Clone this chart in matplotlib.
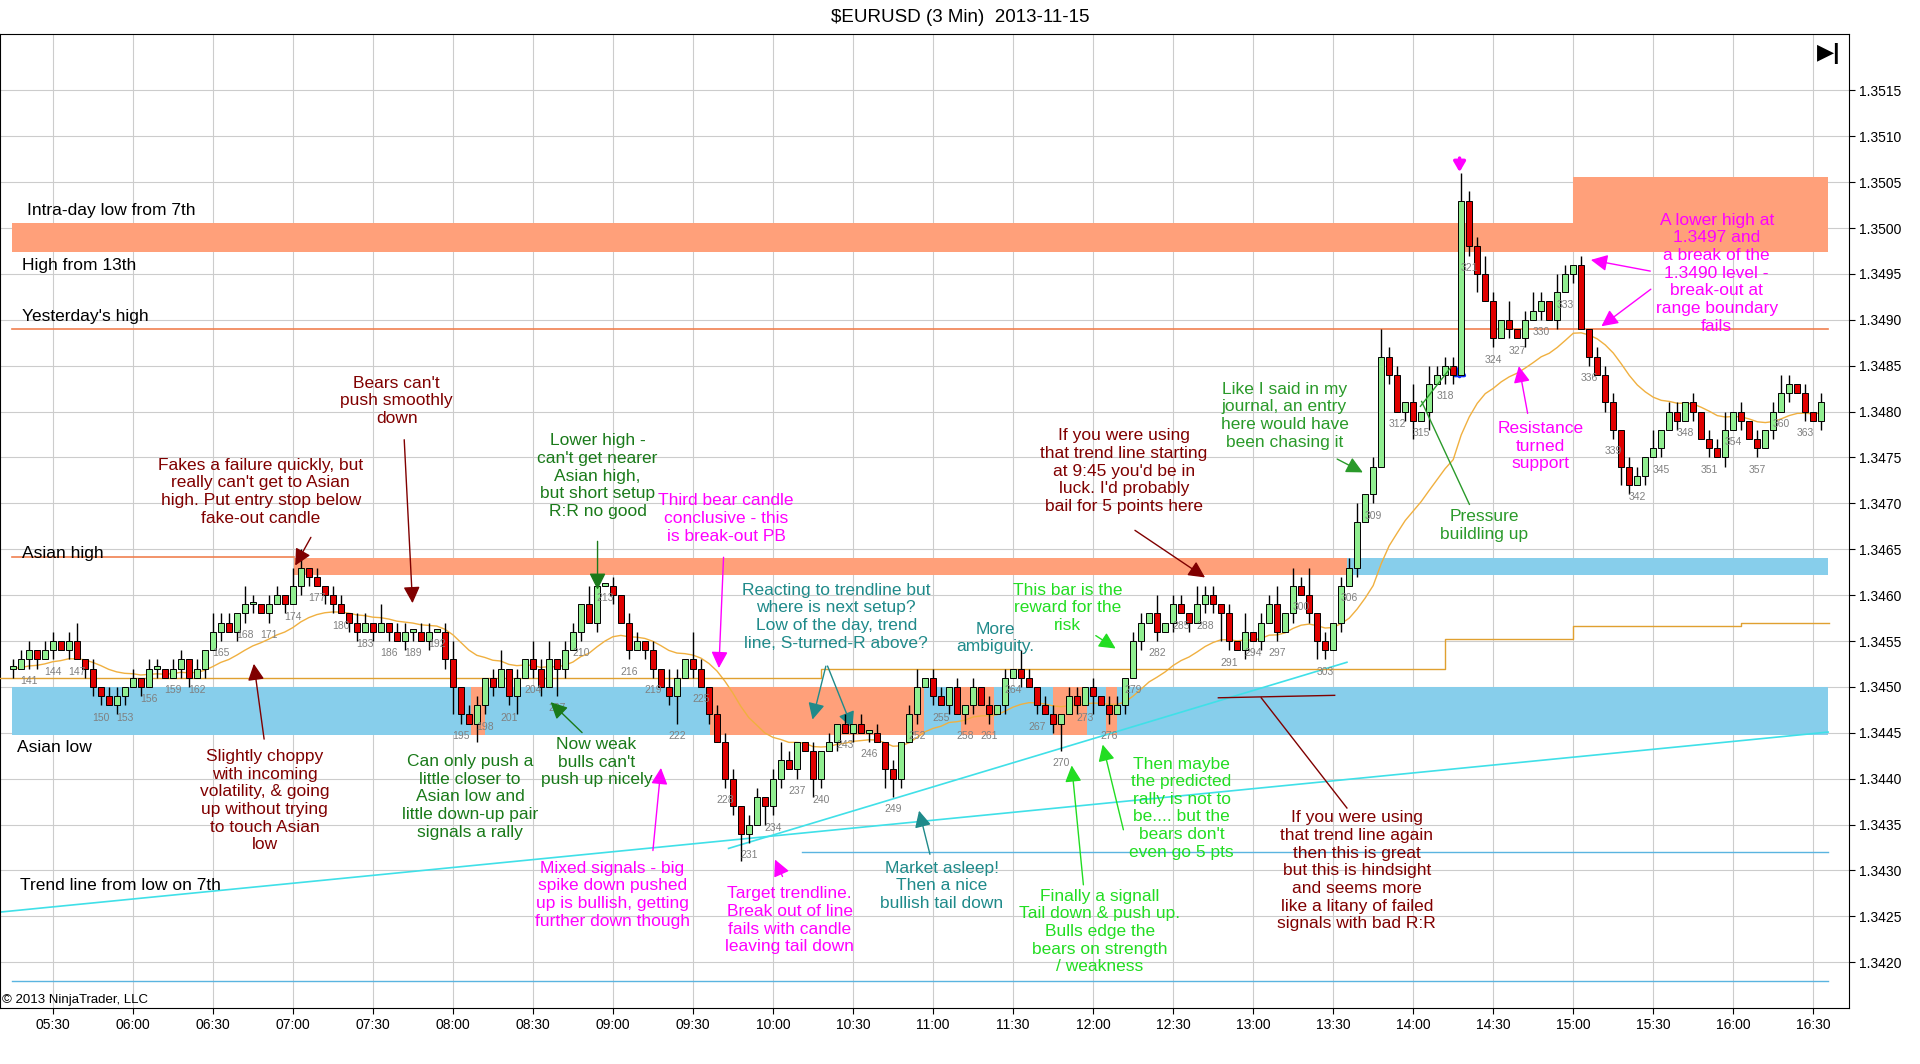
import matplotlib
matplotlib.use("Agg")
import matplotlib.pyplot as plt
import numpy as np
import pandas as pd

plt.rcParams['font.family'] = ['Liberation Sans', 'DejaVu Sans']

# prices in pips above 1.3400, bars numbered 139..365 (bar 144 = 05:30)
first_bar = 139
closes = [52,53,54,53,54,55,54,55,53,52,
          50,49,48,49,50,51,50,52,52,51,
          52,53,51,52,54,56,57,56,58,59,
          59,58,59,60,59,61,63,62,61,60,
          59,58,57,56,57,56,57,56,55,56,
          56,55,56,56,53,50,47,46,48,51,
          50,52,49,51,53,52,50,53,52,54,
          56,59,57,61,61,60,57,54,55,54,
          52,50,49,51,53,52,50,47,44,40,
          37,34,35,38,37,40,42,41,44,43,
          40,43,44,46,45,46,45,45,44,41,
          40,44,47,50,51,49,48,50,47,48,
          50,48,47,48,51,52,51,50,48,47,
          46,47,49,48,50,49,48,47,48,51,
          55,57,58,56,57,59,58,57,59,60,
          59,58,55,54,56,55,57,59,56,58,
          61,60,58,55,54,57,61,63,68,71,
          74,86,84,80,81,79,80,83,84,85,
          84,103,98,95,92,88,90,89,88,90,
          91,92,90,93,95,96,89,86,84,81,
          78,74,72,73,75,76,78,80,79,81,
          80,77,76,75,78,80,79,77,76,78,
          80,82,83,82,80,79,81]
hi_wick = ("1110110120 1011010110 1101021102 1011022010 1101102011 0110120110 "
           "1201021201 1021010110 1021031011 1011012100 1010101010 1012011010 "
           "1010102101 1011010110 1102011021 1010201120 2130101120 1311020211 "
           "1311210201 2102101011 1011020110 1011201010 1210101")
lo_wick = ("1011010101 1101101010 0110101011 1010101101 1011010101 1010131021 "
           "1012011031 0101010101 1013010101 1310211010 2101010102 2101010101 "
           "1010101010 1301020101 0101010101 1310101010 1012101010 1010120201 "
           "1012010101 0101010101 1210101010 1010101010 1010101")
hi_w = [int(c) for c in hi_wick.replace(" ", "")]
lo_w = [int(c) for c in lo_wick.replace(" ", "")]

step_bars = [137, 240, 318, 334, 355, 366]
step_vals = [51.0, 51.9, 55.2, 56.6, 57.0, 57.0]

time_labels = ["05:30", "06:00", "06:30", "07:00", "07:30", "08:00", "08:30", "09:00",
               "09:30", "10:00", "10:30", "11:00", "11:30", "12:00", "12:30", "13:00",
               "13:30", "14:00", "14:30", "15:00", "15:30", "16:00", "16:30"]
price_ticks = [1.3420 + 0.0005 * i for i in range(20)]

# reference-pixel -> data helper (reference drawn at 1568 px wide)
def P(x, y):
    return 144 + (x - 43) / 6.536, 115 - (y - 74) / 7.494

fig = plt.figure(figsize=(19.2, 10.64), dpi=100)
ax = fig.add_axes([0.0, 0.053, 0.963, 0.915])
x0, _ = P(0, 0)
x1, _ = P(1510, 0)
_, y1 = P(0, 28)
_, y0 = P(0, 823)
ax.set_xlim(x0, x1)
ax.set_ylim(y0, y1)

for i in range(len(time_labels)):
    ax.axvline(144 + 10 * i, color='#cccccc', lw=0.8, zorder=0)
for p in price_ticks:
    ax.axhline((p - 1.34) * 10000, color='#cccccc', lw=0.8, zorder=0)

salmon = '#FFA07A'
sky = '#87CEEB'
def band(xa, xb, lo, hi, c, z=1):
    a, _ = P(xa, 0)
    b, _ = P(xb, 0)
    ax.fill_between([a, b], lo, hi, color=c, lw=0, zorder=z)

band(10, 1493, 97.4, 100.6, salmon)
band(1285, 1493, 97.4, 105.6, salmon)
band(240, 1100, 62.2, 64.0, salmon)
band(1100, 1493, 62.2, 64.0, sky)
band(10, 1493, 44.8, 50.0, sky)
band(580, 755, 44.8, 50.0, salmon, 1.5)
band(385, 396, 44.8, 50.0, salmon, 1.5)
band(860, 888, 44.8, 50.0, salmon, 1.5)
band(903, 912, 44.8, 50.0, salmon, 1.5)
band(785, 812, 44.8, 50.0, salmon, 1.5)

a, _ = P(10, 0); b, _ = P(1493, 0)
ax.plot([a, b], [89, 89], color='#f08050', lw=1.2, zorder=2)
ax.plot([P(10, 0)[0], P(240, 0)[0]], [64.2, 64.2], color='#f08050', lw=1.2, zorder=2)
ax.plot([P(655, 0)[0], b], [32.0, 32.0], color='#5ab4e0', lw=1, zorder=2)
ax.plot([a, b], [18.0, 18.0], color='#5ab4e0', lw=1, zorder=2)
ax.plot(*zip(P(0, 745), P(1493, 598)), color='#40e0e8', lw=1.2, zorder=2)
ax.plot(*zip(P(595, 693), P(1100, 541)), color='#40e0e8', lw=1.2, zorder=2)
ax.plot(*zip(P(995, 570), P(1090, 568)), color='#800000', lw=1, zorder=2)

# candles
bars = np.arange(first_bar, first_bar + len(closes))
c = np.array(closes, float)
o = np.concatenate([[52], c[:-1]])
h = np.maximum(o, c) + np.array(hi_w)
l = np.minimum(o, c) - np.array(lo_w)
ax.vlines(bars, l, h, color='black', lw=1, zorder=4)
up = c >= o
body = np.where(np.abs(c - o) < 0.3, 0.3, np.abs(c - o))
ax.bar(bars, body, bottom=np.minimum(o, c), width=0.72,
       color=np.where(up, '#90EE90', '#e00000'), edgecolor='black', lw=0.7, zorder=5)

ema = pd.Series(c).ewm(span=20, adjust=False).mean()
ax.plot(bars, ema, color='#f0b040', lw=1, zorder=3)
ax.step(step_bars, step_vals, where='post', color='#e0a030', lw=1, zorder=3)

for n in range(141, bars[-1] + 1, 3):
    k = n - first_bar
    ax.text(n, l[k] - 0.8, str(n), fontsize=7.5, color='#808080', ha='center', va='top', zorder=6)

# left labels
for txt, (x, y) in [("Intra-day low from 7th", (22, 172)), ("High from 13th", (18, 217)),
                    ("Yesterday's high", (18, 259)), ("Asian high", (18, 452)),
                    ("Asian low", (14, 611)), ("Trend line from low on 7th", (16, 723))]:
    ax.text(*P(x, y), txt, fontsize=12.5, color='black', ha='left', va='center', zorder=7)

dred, dgreen, mag, teal, lgreen, grn = '#800000', '#1a7a1a', '#ff00ff', '#1f8a8a', '#22dd22', '#2a9a2a'
notes = [
    ("Fakes a failure quickly, but\nreally can't get to Asian\nhigh. Put entry stop below\nfake-out candle", 213, 374, dred, (255, 437), (240, 464)),
    ("Bears can't\npush smoothly\ndown", 324, 307, dred, (330, 357), (337, 495)),
    ("Lower high -\ncan't get nearer\nAsian high,\nbut short setup\nR:R no good", 488, 354, dgreen, (488, 440), (488, 484)),
    ("Third bear candle\nconclusive - this\nis break-out PB", 593, 403, mag, (591, 453), (587, 548)),
    ("Reacting to trendline but\nwhere is next setup?\nLow of the day, trend\nline, S-turned-R above?", 683, 476, teal, (675, 542), (663, 590)),
    ("More\nambiguity.", 813, 508, teal, None, None),
    ("This bar is the\nreward for the\nrisk", 872, 476, lgreen, (893, 518), (913, 531)),
    ("If you were using\nthat trend line starting\nat 9:45 you'd be in\nluck. I'd probably\nbail for 5 points here", 918, 350, dred, (925, 432), (986, 473)),
    ("Like I said in my\njournal, an entry\nhere would have\nbeen chasing it", 1049, 312, grn, (1090, 374), (1115, 387)),
    ("Pressure\nbuildling up", 1212, 416, grn, None, None),
    ("Resistance\nturned\nsupport", 1258, 344, mag, (1248, 340), (1240, 297)),
    ("A lower high at\n1.3497 and\na break of the\n1.3490 level -\nbreak-out at\nrange boundary\nfails", 1402, 174, mag, (1350, 222), (1297, 212)),
    ("Slightly choppy\nwith incoming\nvolatility, & going\nup without trying\nto touch Asian\nlow", 216, 612, dred, (216, 606), (207, 540)),
    ("Can only push a\nlittle closer to\nAsian low and\nlittle down-up pair\nsignals a rally", 384, 616, dgreen, None, None),
    ("Now weak\nbulls can't\npush up nicely", 487, 602, dgreen, (477, 600), (448, 572)),
    ("Mixed signals - big\nspike down pushed\nup is bullish, getting\nfurther down though", 500, 703, mag, (533, 697), (540, 625)),
    ("Target trendline.\nBreak out of line\nfails with candle\nleaving tail down", 645, 724, mag, (640, 718), (632, 700)),
    ("Market asleep!\nThen a nice\nbullish tail down", 769, 703, teal, (760, 700), (750, 660)),
    ("Finally a signall\nTail down & push up.\nBulls edge the\nbears on strength\n/ weakness", 898, 726, lgreen, (885, 725), (875, 623)),
    ("Then maybe\nthe predicted\nrally is not to\nbe.... but the\nbears don't\neven go 5 pts", 965, 618, lgreen, (918, 680), (900, 606)),
    ("If you were using\nthat trend line again\nthen this is great\nbut this is hindsight\nand seems more\nlike a litany of failed\nsignals with bad R:R", 1108, 662, dred, None, None),
]
arrow = dict(arrowstyle='-|>,head_width=0.5,head_length=1.0', lw=1)
for txt, x, y, col, frm, to in notes:
    ax.text(*P(x, y), txt, fontsize=12.5, color=col, ha='center', va='top',
            linespacing=1.22, zorder=8)
    if frm is not None:
        ax.annotate("", xy=P(*to), xytext=P(*frm), zorder=8,
                    arrowprops=dict(arrow, color=col))

# extra plain lines
ax.annotate("", xy=P(697, 597), xytext=P(675, 542),
            arrowprops=dict(arrow, color=teal))
ax.plot(*zip(P(1100, 660), P(1030, 570)), color=dred, lw=1, zorder=8)
ax.plot(*zip(P(1200, 412), P(1161, 328)), color=grn, lw=1, zorder=8)
ax.plot(*zip(P(1160, 332), P(1185, 300)), color=grn, lw=1, zorder=8)
ax.annotate("", xy=P(1306, 268), xytext=P(1350, 235),
            arrowprops=dict(arrow, color=mag))
ax.annotate("", xy=P(1192, 143), xytext=P(1192, 127),
            arrowprops=dict(arrowstyle='-|>,head_width=0.35,head_length=0.6', color=mag, lw=2.5))
ax.annotate("", xy=P(1192, 295), xytext=P(1192, 310),
            arrowprops=dict(arrowstyle='-|>,head_width=0.35,head_length=0.6', color='#1030ff', lw=2.5))
ax.text(*P(1493, 44), "\u25b6|", fontsize=16, fontweight='bold', ha='center', va='center')

# axes
ax.yaxis.tick_right()
yt = [(p - 1.34) * 10000 for p in price_ticks]
ax.set_yticks(yt)
ax.set_yticklabels([f"{p:.4f}" for p in price_ticks], fontsize=10)
ax.set_xticks([144 + 10 * i for i in range(len(time_labels))])
ax.set_xticklabels(time_labels, fontsize=10)
ax.tick_params(length=4)
for s in ax.spines.values():
    s.set_linewidth(0.8)
fig.text(0.5, 0.984, "$EURUSD (3 Min)  2013-11-15", ha='center', va='center', fontsize=13.5)
fig.text(0.001, 0.06, "\u00a9 2013 NinjaTrader, LLC", ha='left', va='center', fontsize=9.5)
fig.savefig("out.png", dpi=100)
